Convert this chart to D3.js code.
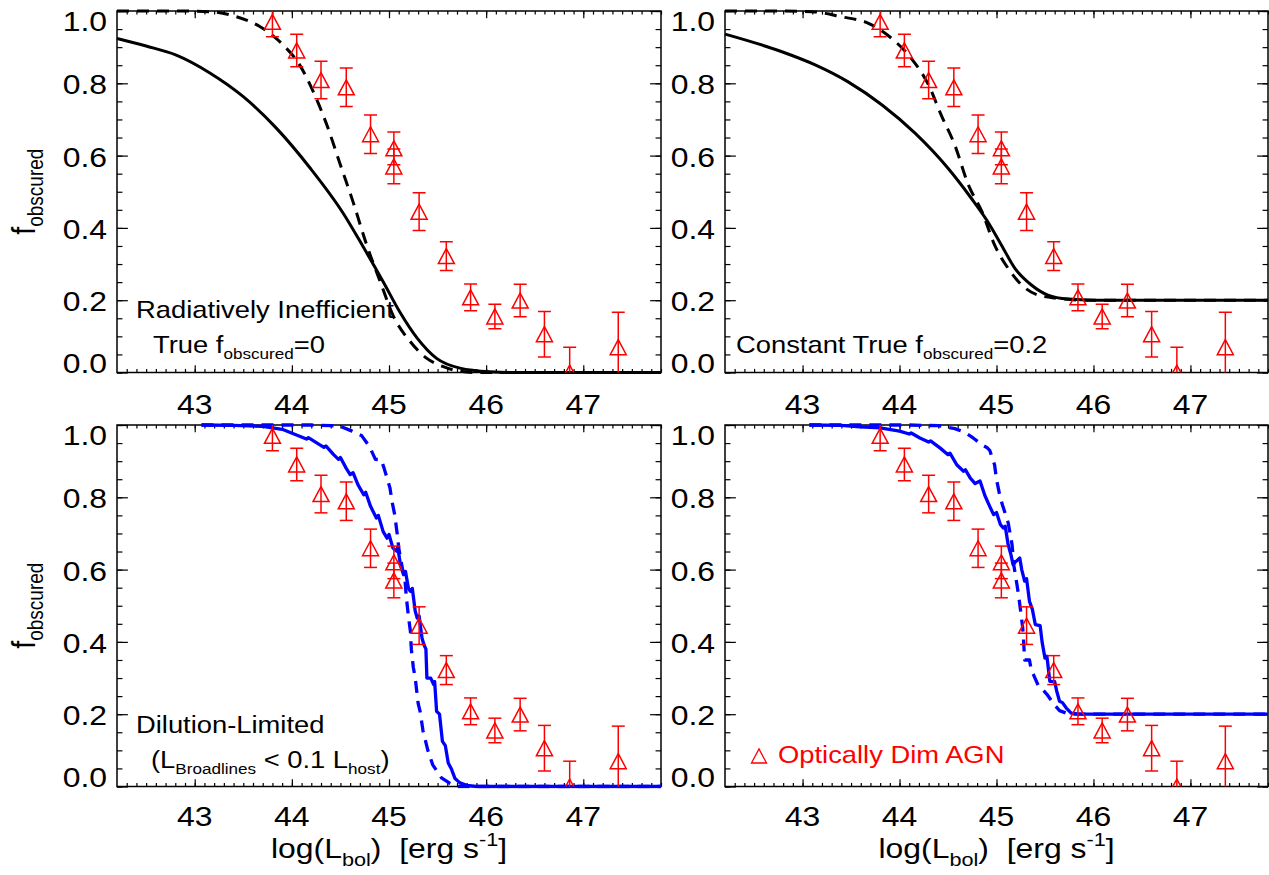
<!DOCTYPE html>
<html>
<head>
<meta charset="utf-8">
<script src="https://cdn.jsdelivr.net/npm/d3@7"></script>
<style>
  html, body { margin: 0; padding: 0; background: #fff; }
  svg { display: block; font-family: "Liberation Sans", Arial, Helvetica, sans-serif; }
</style>
</head>
<body>
<svg id="chart" width="1269" height="875"></svg>
<script>
// ---- Observed obscured fraction of optically dim AGN (same in every panel) ----
const lumBins      = [43.80, 44.05, 44.30, 44.56, 44.81, 45.05, 45.05, 45.31, 45.59, 45.84, 46.09, 46.35, 46.60, 46.86, 47.36];
const fracObscured = [0.970, 0.891, 0.809, 0.789, 0.659, 0.620, 0.570, 0.445, 0.322, 0.208, 0.155, 0.199, 0.106, 0.000, 0.070];
const fracError    = [0.041, 0.045, 0.052, 0.053, 0.053, 0.045, 0.048, 0.052, 0.040, 0.037, 0.034, 0.045, 0.063, 0.070, 0.097];

// ---- Model curves: [log L_bol, f_obscured] ----
// Radiatively inefficient, true f_obscured = 0
const radIneffModel = [[42.20,0.924],[42.50,0.903],[42.81,0.878],[43.16,0.828],[43.50,0.763],[43.84,0.676],[44.19,0.565],[44.53,0.440],[44.74,0.345],[44.94,0.251],[45.11,0.168],[45.29,0.095],[45.49,0.039],[45.73,0.012],[46.04,0.002],[46.30,0.000],[47.80,0.000]];
const radIneffAlt   = [[42.20,1.000],[42.80,1.000],[43.16,0.998],[43.43,0.984],[43.67,0.957],[43.91,0.906],[44.08,0.851],[44.22,0.777],[44.36,0.685],[44.50,0.574],[44.63,0.472],[44.77,0.353],[44.91,0.251],[45.04,0.159],[45.22,0.085],[45.39,0.039],[45.56,0.016],[45.70,0.005],[45.90,0.000],[47.80,0.000]];

// Constant true f_obscured = 0.2
const constModel = [[42.20,0.936],[42.78,0.888],[43.13,0.851],[43.47,0.804],[43.82,0.740],[44.16,0.662],[44.50,0.565],[44.74,0.482],[44.91,0.417],[45.05,0.353],[45.19,0.288],[45.36,0.242],[45.53,0.214],[45.74,0.203],[46.01,0.200],[47.80,0.200]];
const constAlt   = [[42.20,1.000],[42.80,1.000],[43.10,0.998],[43.40,0.984],[43.68,0.966],[43.92,0.924],[44.12,0.869],[44.30,0.795],[44.43,0.712],[44.57,0.629],[44.71,0.519],[44.85,0.445],[44.98,0.353],[45.12,0.288],[45.26,0.242],[45.43,0.214],[45.64,0.205],[45.90,0.200],[47.80,0.200]];

// Dilution-limited (L_Broadlines < 0.1 L_host)
const diluteModel = [[43.07,1.000],[43.40,0.999],[43.70,0.996],[43.90,0.988],[44.08,0.969],[44.15,0.961],[44.17,0.965],[44.26,0.950],[44.33,0.938],[44.35,0.942],[44.43,0.918],[44.48,0.905],[44.50,0.910],[44.56,0.880],[44.60,0.863],[44.63,0.868],[44.68,0.835],[44.74,0.807],[44.76,0.814],[44.81,0.775],[44.87,0.743],[44.89,0.750],[44.94,0.705],[44.98,0.687],[45.00,0.697],[45.04,0.660],[45.08,0.651],[45.09,0.662],[45.12,0.610],[45.15,0.586],[45.17,0.595],[45.20,0.548],[45.22,0.540],[45.24,0.548],[45.27,0.485],[45.29,0.466],[45.31,0.472],[45.34,0.410],[45.36,0.392],[45.38,0.380],[45.39,0.300],[45.43,0.300],[45.46,0.282],[45.47,0.290],[45.49,0.208],[45.52,0.200],[45.55,0.125],[45.58,0.113],[45.61,0.065],[45.64,0.050],[45.68,0.022],[45.73,0.010],[45.80,0.003],[45.90,0.000],[47.80,0.000]];
const diluteAlt   = [[43.07,1.000],[44.20,1.000],[44.40,0.998],[44.50,0.996],[44.62,0.983],[44.72,0.970],[44.76,0.955],[44.80,0.940],[44.86,0.905],[44.92,0.904],[44.95,0.880],[44.98,0.853],[45.01,0.826],[45.03,0.790],[45.06,0.750],[45.09,0.687],[45.10,0.660],[45.14,0.600],[45.16,0.585],[45.18,0.520],[45.20,0.470],[45.22,0.430],[45.23,0.380],[45.25,0.330],[45.27,0.300],[45.30,0.230],[45.32,0.208],[45.35,0.154],[45.40,0.100],[45.45,0.060],[45.50,0.040],[45.54,0.024],[45.62,0.010],[45.70,0.000],[47.80,0.000]];

// Dilution-limited plus constant true f_obscured = 0.2
const dimModel = [[43.07,1.000],[43.40,0.999],[43.59,0.995],[43.80,0.992],[44.00,0.983],[44.10,0.975],[44.12,0.978],[44.21,0.964],[44.30,0.953],[44.32,0.956],[44.42,0.936],[44.50,0.918],[44.52,0.922],[44.59,0.890],[44.66,0.872],[44.68,0.876],[44.73,0.853],[44.78,0.838],[44.83,0.845],[44.88,0.805],[44.93,0.775],[44.97,0.752],[45.00,0.758],[45.04,0.725],[45.07,0.715],[45.09,0.720],[45.12,0.669],[45.15,0.640],[45.17,0.614],[45.19,0.620],[45.24,0.632],[45.26,0.600],[45.29,0.568],[45.31,0.575],[45.34,0.512],[45.37,0.490],[45.40,0.448],[45.45,0.445],[45.47,0.400],[45.50,0.355],[45.52,0.360],[45.55,0.291],[45.60,0.290],[45.62,0.265],[45.65,0.236],[45.68,0.232],[45.72,0.217],[45.77,0.203],[45.85,0.200],[47.80,0.200]];
const dimAlt   = [[43.07,1.000],[44.10,1.000],[44.40,0.998],[44.57,0.990],[44.67,0.980],[44.74,0.968],[44.78,0.960],[44.85,0.945],[44.90,0.938],[44.93,0.930],[44.98,0.890],[45.00,0.850],[45.03,0.810],[45.06,0.780],[45.09,0.755],[45.12,0.730],[45.16,0.670],[45.18,0.610],[45.21,0.560],[45.23,0.525],[45.27,0.440],[45.28,0.400],[45.29,0.350],[45.34,0.350],[45.36,0.320],[45.38,0.310],[45.43,0.280],[45.47,0.270],[45.52,0.255],[45.56,0.240],[45.60,0.225],[45.65,0.210],[45.75,0.200],[47.80,0.200]];

// ---- Axis ticks ----
const xDomain = [42.2, 47.8];
const xMajorTicks = [43, 44, 45, 46, 47];
const xTickLabels = ["43", "44", "45", "46", "47"];
const xMinorTicks = d3.range(423, 479).map(i => i / 10);
const yMajorTicks = [0, 0.2, 0.4, 0.6, 0.8, 1.0];
const yTickLabels = ["0.0", "0.2", "0.4", "0.6", "0.8", "1.0"];
const yMinorTicks = d3.range(0, 21).map(i => i * 0.05);

// ---- Layout ----
const SX = 1.14;            // horizontal glyph stretch of the typeface
const RED = "#ff0000", BLUE = "#0000ff", BLACK = "#000000";
const svg = d3.select("#chart");
const defs = svg.append("defs");

const panels = [
  { id: "tl", left: 117, right: 661,  top: 11,  bottom: 372.5, color: BLACK, model: radIneffModel, alt: radIneffAlt, smooth: true,  yTitle: true,  xTitle: false, labOff: 41 },
  { id: "tr", left: 725, right: 1268, top: 11,  bottom: 372.5, color: BLACK, model: constModel,    alt: constAlt,    smooth: true,  yTitle: false, xTitle: false, labOff: 41 },
  { id: "bl", left: 117, right: 661,  top: 425, bottom: 786.5, color: BLUE,  model: diluteModel,   alt: diluteAlt,   smooth: false, yTitle: true,  xTitle: true,  labOff: 39 },
  { id: "br", left: 725, right: 1268, top: 425, bottom: 786.5, color: BLUE,  model: dimModel,      alt: dimAlt,      smooth: false, yTitle: false, xTitle: true,  labOff: 39 }
];

// text made of runs (normal / sub / superscript)
function richText(g, x, y, parts, opts = {}) {
  const t = g.append("text")
    .attr("transform", `translate(${x},${y}) scale(${SX},1)` + (opts.rotate ? ` rotate(${opts.rotate})` : ""))
    .attr("text-anchor", opts.anchor || "start")
    .attr("fill", opts.fill || BLACK)
    .attr("xml:space", "preserve")
    .style("white-space", "pre");
  let cur = 0;
  parts.forEach(p => {
    const shift = p.shift || 0;
    t.append("tspan").attr("font-size", p.size).attr("dy", shift - cur).text(p.text);
    cur = shift;
  });
  return t;
}

function trianglePath(cx, cy, hw, hh) {
  return `M${cx - hw},${cy + hh}L${cx},${cy - hh}L${cx + hw},${cy + hh}Z`;
}

panels.forEach(p => {
  const x = d3.scaleLinear().domain(xDomain).range([p.left, p.right]);
  const y = d3.scaleLinear().domain([0, 1]).range([p.bottom, p.top]);
  const w = p.right - p.left, h = p.bottom - p.top;
  const g = svg.append("g").attr("class", "panel-" + p.id);

  defs.append("clipPath").attr("id", "clipLine-" + p.id)
    .append("rect").attr("x", p.left - 2).attr("y", p.top - 2).attr("width", w + 4).attr("height", h + 4);
  defs.append("clipPath").attr("id", "clipPts-" + p.id)
    .append("rect").attr("x", p.left).attr("y", p.top).attr("width", w).attr("height", h);

  // frame
  g.append("rect").attr("x", p.left).attr("y", p.top).attr("width", w).attr("height", h)
    .attr("fill", "none").attr("stroke", BLACK).attr("stroke-width", 1.5);

  // inward ticks on all four sides
  const xMaj = 0.02 * h, yMaj = 0.02 * w;
  const tickAxes = [
    [d3.axisBottom(x).tickValues(xMinorTicks).tickSize(-xMaj / 2), `translate(0,${p.bottom})`],
    [d3.axisBottom(x).tickValues(xMajorTicks).tickSize(-xMaj),     `translate(0,${p.bottom})`],
    [d3.axisTop(x).tickValues(xMinorTicks).tickSize(-xMaj / 2),    `translate(0,${p.top})`],
    [d3.axisTop(x).tickValues(xMajorTicks).tickSize(-xMaj),        `translate(0,${p.top})`],
    [d3.axisLeft(y).tickValues(yMinorTicks).tickSize(-yMaj / 2),   `translate(${p.left},0)`],
    [d3.axisLeft(y).tickValues(yMajorTicks).tickSize(-yMaj),       `translate(${p.left},0)`],
    [d3.axisRight(y).tickValues(yMinorTicks).tickSize(-yMaj / 2),  `translate(${p.right},0)`],
    [d3.axisRight(y).tickValues(yMajorTicks).tickSize(-yMaj),      `translate(${p.right},0)`]
  ];
  tickAxes.forEach(([axis, tr]) => {
    const a = g.append("g").attr("transform", tr).call(axis.tickFormat(""));
    a.select(".domain").remove();
    a.selectAll(".tick line").attr("stroke", BLACK).attr("stroke-width", 1.2);
  });

  // tick labels
  yMajorTicks.forEach((v, i) => {
    let base = y(v) + 11;
    if (i === 0) base = p.bottom + 0.5;
    if (i === yMajorTicks.length - 1) base = p.top + 20;
    richText(g, p.left - 10, base, [{ text: yTickLabels[i], size: 28 }], { anchor: "end" });
  });
  xMajorTicks.forEach((v, i) => {
    richText(g, x(v), p.bottom + p.labOff, [{ text: xTickLabels[i], size: 28 }], { anchor: "middle" });
  });

  // axis titles
  if (p.yTitle) {
    richText(g, 35, (p.top + p.bottom) / 2,
      [{ text: "f", size: 29 }, { text: "obscured", size: 19, shift: 7 }],
      { anchor: "middle", rotate: -90 });
  }
  if (p.xTitle) {
    richText(g, (p.left + p.right) / 2, 858,
      [{ text: "log(L", size: 28 }, { text: "bol", size: 19, shift: 8 }, { text: ")  [erg s", size: 28 },
       { text: "-1", size: 19, shift: -12 }, { text: "]", size: 28 }],
      { anchor: "middle" });
  }

  // model curves
  const line = d3.line().x(d => x(d[0])).y(d => y(d[1]))
    .curve(p.smooth ? d3.curveMonotoneX : d3.curveLinear);
  const sw = p.color === BLUE ? 3.3 : 3;
  const cg = g.append("g").attr("clip-path", `url(#clipLine-${p.id})`);
  cg.append("path").datum(p.alt).attr("d", line)
    .attr("fill", "none").attr("stroke", p.color).attr("stroke-width", sw)
    .attr("stroke-dasharray", "12,8").attr("stroke-linejoin", "round");
  cg.append("path").datum(p.model).attr("d", line)
    .attr("fill", "none").attr("stroke", p.color).attr("stroke-width", sw)
    .attr("stroke-linejoin", "round");

  // observed points with error bars
  const pg = g.append("g").attr("clip-path", `url(#clipPts-${p.id})`)
    .attr("stroke", RED).attr("stroke-width", 1.5).attr("fill", "none");
  lumBins.forEach((L, i) => {
    const cx = x(L), v = fracObscured[i], e = fracError[i];
    const yTop = y(v + e), yBot = y(v - e), cy = y(v);
    pg.append("line").attr("x1", cx).attr("x2", cx).attr("y1", yTop).attr("y2", yBot);
    pg.append("line").attr("x1", cx - 6.5).attr("x2", cx + 6.5).attr("y1", yTop).attr("y2", yTop);
    pg.append("line").attr("x1", cx - 6.5).attr("x2", cx + 6.5).attr("y1", yBot).attr("y2", yBot);
    pg.append("path").attr("d", trianglePath(cx, cy, 8, 7.5));
  });
});

// panel annotations
const ann = svg.append("g").attr("class", "annotations");
richText(ann, 136, 318, [{ text: "Radiatively Inefficient", size: 24 }]);
richText(ann, 153, 353, [{ text: "True f", size: 24 }, { text: "obscured", size: 15, shift: 6 }, { text: "=0", size: 24 }]);
richText(ann, 736, 353, [{ text: "Constant True f", size: 24 }, { text: "obscured", size: 15, shift: 6 }, { text: "=0.2", size: 24 }]);
richText(ann, 136, 733, [{ text: "Dilution-Limited", size: 24 }]);
richText(ann, 151, 768, [{ text: "(L", size: 24 }, { text: "Broadlines", size: 15, shift: 6 }, { text: " < 0.1 L", size: 24 },
                         { text: "host", size: 15, shift: 6 }, { text: ")", size: 24 }]);

// legend
ann.append("path").attr("d", trianglePath(759, 756, 7.5, 7))
  .attr("fill", "none").attr("stroke", RED).attr("stroke-width", 1.3);
richText(ann, 778, 763, [{ text: "Optically Dim AGN", size: 24 }], { fill: RED });
</script>
</body>
</html>
